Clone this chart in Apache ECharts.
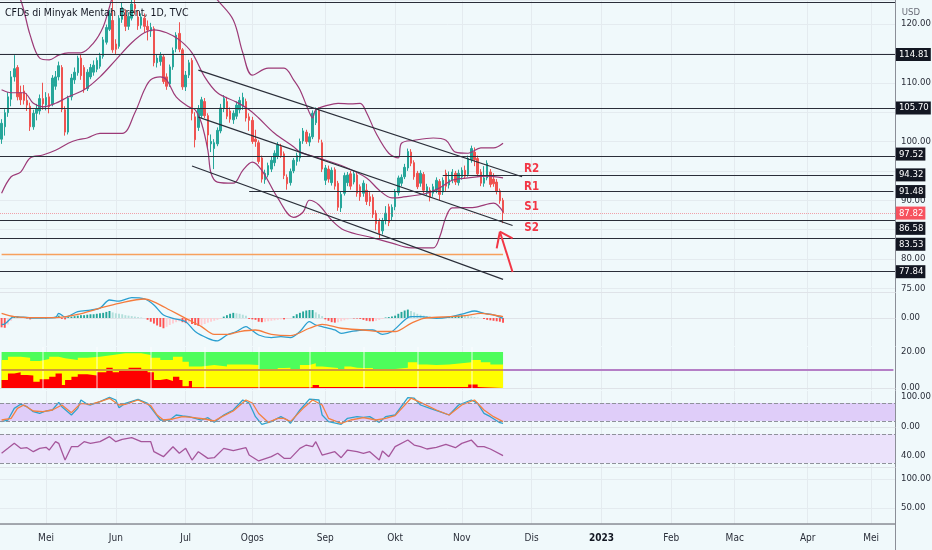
<!DOCTYPE html>
<html>
<head>
<meta charset="utf-8">
<title>CFDs di Minyak Mentah Brent, 1D, TVC</title>
<script src="https://cdn.jsdelivr.net/npm/echarts@6/dist/echarts.min.js"></script>
<style>
    html, body { margin: 0; padding: 0; background: #f0f9fb; }
    #main { width: 932px; height: 550px; }
</style>
</head>
<body>
<div id="main"></div>
<script>
    // 月份标签（马来文）
    var monthNames = ['Jan', 'Feb', 'Mac', 'Apr', 'Mei', 'Jun', 'Jul', 'Ogos', 'Sep', 'Okt', 'Nov', 'Dis'];
    var holidays = ['2022-04-15'];
    var barCount = 282;

    // K线 [开, 收, 低, 高]
    var candles = [
        [100.4,103.1,99.6,103.8],[102.5,104.9,101.0,105.5],[104.9,107.6,104.2,108.4],[107.2,111.0,106.0,112.0],
        [111.0,112.4,110.2,114.7],[112.6,107.6,107.0,113.0],[108.3,107.1,106.2,109.5],[108.6,107.0,106.3,109.6],
        [107.0,106.2,105.2,108.2],[106.0,102.5,101.8,106.6],[102.5,104.8,102.0,105.4],[104.8,105.6,103.6,106.4],
        [105.2,107.3,104.6,108.0],[107.3,106.4,105.4,110.0],[106.2,107.5,105.3,108.4],[107.6,105.9,104.8,108.2],
        [106.4,110.8,106.0,111.3],[109.4,111.0,108.8,112.0],[111.0,112.9,110.4,113.6],[112.6,105.5,105.0,113.0],
        [105.4,101.6,101.0,106.0],[101.6,107.4,101.2,107.8],[107.6,110.8,107.0,111.5],[110.5,111.8,109.8,112.6],
        [111.7,114.2,111.2,114.6],[114.2,111.2,110.5,114.9],[112.6,108.9,108.3,113.0],[109.0,111.8,108.6,112.3],
        [111.0,112.6,110.6,113.2],[111.8,113.0,111.2,113.8],[112.3,113.8,111.8,114.3],[112.8,114.6,112.4,115.1],
        [114.5,117.3,114.1,117.8],[116.9,119.4,116.5,119.9],[119.1,121.8,118.8,122.4],[120.6,115.6,115.1,124.2],
        [116.6,115.7,114.8,117.4],[116.2,121.0,115.8,121.5],[120.8,122.8,120.2,123.6],[121.5,119.6,118.8,122.5],
        [119.6,121.3,119.0,122.0],[121.0,123.4,120.6,124.5],[123.3,122.6,121.6,124.6],[121.2,119.7,119.0,122.3],
        [119.8,121.2,119.2,121.8],[121.0,119.6,118.6,121.8],[119.6,119.0,117.2,120.6],[118.8,119.4,117.8,120.2],
        [119.2,113.4,112.8,119.6],[113.4,114.2,112.6,114.8],[113.6,114.6,112.9,115.2],[114.4,110.2,109.8,114.8],
        [111.0,109.4,108.8,111.6],[109.8,112.7,109.3,113.1],[112.7,115.5,112.2,116.0],[115.8,118.1,115.2,118.6],
        [118.4,115.7,115.2,120.3],[115.6,109.3,108.8,115.9],[109.3,111.3,108.6,112.0],[111.3,113.4,110.8,113.9],
        [113.8,104.8,103.6,114.2],[104.2,100.3,99.0,105.0],[102.4,105.6,101.8,106.2],[104.4,107.1,104.0,107.6],
        [106.8,104.4,104.0,107.4],[104.4,101.1,98.8,104.8],[99.6,100.0,98.2,101.2],[98.8,99.8,95.3,100.4],
        [99.6,101.9,99.2,102.4],[101.8,105.7,101.4,106.4],[105.6,107.3,105.0,107.9],[106.8,104.3,103.8,107.6],
        [105.2,103.8,103.2,105.8],[103.7,104.8,103.0,105.3],[104.3,106.2,103.8,106.8],[105.4,107.0,104.8,107.6],
        [105.9,107.5,105.4,108.3],[106.8,104.0,103.4,107.3],[104.2,103.6,101.8,104.8],[103.6,100.0,99.6,104.2],
        [100.4,100.0,99.1,102.0],[99.8,96.6,96.2,100.2],[97.2,93.6,93.0,97.6],[93.5,94.6,92.8,95.2],
        [94.3,95.9,93.9,96.4],[95.3,96.8,94.8,97.4],[96.4,98.0,95.8,98.5],[97.5,99.4,97.0,99.9],
        [99.1,97.6,97.2,99.6],[97.9,94.2,93.6,98.3],[93.9,92.8,91.8,94.4],[93.0,94.9,92.5,95.4],
        [95.0,96.8,94.6,97.2],[96.6,97.6,95.9,98.1],[97.2,100.0,96.6,100.5],[100.1,101.8,99.6,102.3],
        [101.6,100.0,99.6,102.0],[99.9,100.8,99.2,101.4],[100.8,104.8,100.4,105.3],[103.2,105.3,102.8,105.8],
        [105.3,100.4,99.8,105.8],[99.8,95.3,94.8,100.3],[93.4,95.5,92.6,96.0],[95.3,93.6,93.0,95.9],
        [93.0,95.1,92.5,95.6],[95.2,92.4,91.8,95.6],[92.9,88.8,88.2,93.3],[88.7,91.0,88.0,91.5],
        [91.2,94.2,90.8,94.7],[93.0,94.3,92.4,94.8],[94.5,92.4,91.8,95.0],[93.1,94.5,92.7,95.1],
        [94.3,91.2,90.6,94.7],[92.3,90.6,89.9,92.7],[91.2,92.9,90.6,93.4],[91.7,89.8,89.2,92.8],
        [90.6,89.8,89.0,91.4],[90.5,87.6,87.0,91.0],[87.8,86.0,84.9,88.3],[86.4,84.4,83.6,86.9],
        [84.8,86.5,84.2,87.0],[86.6,87.8,85.9,89.0],[88.9,86.2,85.6,89.4],[87.2,88.8,86.6,89.3],
        [88.9,91.4,88.3,91.9],[91.3,93.8,90.8,94.2],[92.9,93.9,92.4,94.4],[94.0,95.6,93.6,96.2],
        [95.5,98.3,95.0,98.8],[98.2,96.3,95.8,98.7],[96.4,94.0,93.5,96.8],[94.6,92.3,91.9,95.0],
        [92.9,94.6,92.3,95.1],[94.4,91.7,91.2,94.8],[91.3,92.3,90.8,92.8],[91.7,90.5,89.8,92.2],
        [91.2,92.3,90.6,92.8],[91.7,93.4,91.2,93.9],[93.2,91.0,89.9,93.6],[91.4,93.4,90.9,93.9],
        [94.6,92.4,91.6,95.2],[92.6,93.5,92.0,94.9],[93.4,94.8,92.9,95.3],[94.6,93.1,92.6,95.0],
        [93.0,94.6,92.5,95.2],[94.0,95.1,93.5,95.6],[95.1,94.1,93.7,95.9],[94.4,97.1,94.0,97.6],
        [96.9,98.8,96.4,99.3],[98.2,96.9,95.8,99.0],[97.1,94.5,94.0,97.6],[94.8,92.9,92.4,95.3],
        [92.9,93.8,92.3,95.8],[93.8,96.3,93.4,96.8],[94.8,92.7,92.2,95.3],[93.6,92.8,92.3,94.6],
        [93.1,91.5,91.0,93.6],[91.6,89.9,89.4,92.0],[90.0,87.82,86.1,90.4]
    ];

    // 布林带 [K线序号, 价格]
    var bbUpper = [[0,128.5],[3,126.5],[6,124.1],[9,118.1],[12,114.2],[15,113.9],[18,114.7],[21,115.1],[25,115.1],
        [29,116.8],[32,119.5],[34,122.9],[35,124.5],[40,128],[47,129],[53,128.5],[61,127],[66,125.5],[68,124.1],
        [73,120.7],[76,115.1],[79,111.3],[84,112.5],[89,112.5],[92,110.5],[94,108.8],[97,104.9],[98,104.0],
        [99,105.4],[103,106.2],[106,106.5],[110,106.4],[113,106.5],[115,104.9],[118,101.4],[122,98.0],[125,97.2],
        [126,99.7],[130,100.2],[136,100.6],[140,100.2],[143,98.2],[147,98.0],[151,98.9],[155,98.9],[158,99.7]];
    var bbMid = [[0,108.8],[3,108.3],[7,108.3],[10,106.5],[13,105.9],[17,106.5],[21,107.6],[26,108.8],[31,111.0],
        [36,113.9],[41,116.8],[45,118.5],[48,119.0],[52,118.5],[56,117.3],[60,115.1],[64,111.0],[68,108.3],
        [74,106.7],[78,105.4],[81,104.0],[86,101.4],[92,99.1],[94,98.2],[100,97.2],[108,95.7],[115,93.8],
        [119,91.7],[123,90.4],[126,90.5],[134,91.2],[138,92.1],[142,93.4],[147,93.8],[153,94.1],[158,93.8]];
    var bbLower = [[0,91.2],[3,94.0],[6,94.8],[9,97.2],[13,97.7],[17,98.5],[21,99.7],[24,100.3],[27,100.6],
        [31,101.4],[38,101.4],[42,104.9],[45,108.8],[47,110.5],[50,111.0],[52,110.5],[55,107.6],[59,105.9],
        [61,105.4],[63,103.1],[65,98.5],[66,94.6],[68,93.1],[73,92.9],[76,95.1],[79,96.5],[82,95.1],[87,90.4],
        [92,87.1],[95,88.0],[97,90.0],[100,89.2],[104,86.6],[108,84.9],[117,83.6],[123,82.7],[129,81.9],
        [136,81.9],[138,83.7],[140,87.1],[142,88.7],[149,88.8],[155,89.5],[158,88.0]];

    // 水平价位线
    var levelValues = [114.81, 105.70, 97.52, 94.32, 91.48, 86.58, 83.53, 77.84];
    var levelStart = [0, 0, 0, 139, 78, 0, 0, 0];
    var topLine = 123.68;
    var orangeLine = 80.85;
    var lastPrice = 87.82;
    // 通道线 [起点序号, 起点价, 终点序号, 终点价]
    var channels = [[62, 112.15, 164, 94.0], [62, 104.15, 161, 85.7], [60, 95.83, 158, 76.53]];
    var arrow = [[161, 77.79, 157, 84.65], [157, 84.65, 156, 81.82], [157, 84.65, 161, 83.52]];
    var srNames = ['R2', 'R1', 'S1', 'S2'];
    var srValues = [95.40, 92.26, 88.77, 85.36];

    // MACD
    var macdLine = [[0,-1.4],[1,-1.3],[4,0.3],[10,0],[17,0.1],[18,1.0],[20,0.2],[24,1.35],[28,1.7],[31,2.1],
        [34,3.85],[37,3.6],[41,4.35],[45,4.07],[48,2.8],[51,0.64],[54,-0.07],[58,-0.8],[61,-2.9],[65,-4.35],
        [68,-4.9],[71,-3.64],[74,-2.9],[77,-1.85],[78,-2.2],[81,-3.64],[85,-4.2],[88,-4.0],[91,-4.2],[94,-2.9],
        [97,-0.8],[99,-1.5],[101,-1.85],[105,-2.57],[107,-3.28],[110,-2.9],[114,-2.57],[117,-2.57],[120,-3.5],
        [123,-2.9],[127,-0.43],[129,0.28],[132,0.28],[137,-0.07],[141,0.21],[146,1.0],[149,1.5],[152,1.0],
        [155,0.64],[158,-0.07]];
    var signalLine = [[0,1.0],[4,0.3],[10,0.07],[17,0.07],[24,0.78],[31,2.1],[37,3.14],[45,4.07],[49,3.14],
        [53,1.7],[58,-0.07],[63,-1.85],[67,-3.5],[71,-3.5],[75,-2.9],[80,-2.57],[85,-3.5],[91,-3.78],[97,-2.2],
        [101,-1.36],[107,-2.2],[114,-2.57],[120,-2.9],[124,-2.9],[129,-1.14],[133,-0.07],[139,0.21],[146,0.5],
        [151,1.0],[155,0.64],[158,0.28]];
    var macdHist = [-2.0,-2.1,-1.4,-0.6,0.3,0.3,0.2,0.1,-0.1,-0.3,-0.1,0.0,0.1,0.0,-0.1,0.1,0.2,0.3,0.5,-0.2,
        -0.3,0.2,0.3,0.4,0.5,0.6,0.6,0.7,0.8,0.8,0.9,1.0,1.1,1.3,1.5,1.2,1.0,0.9,0.8,0.6,
        0.5,0.4,0.3,0.2,0.1,0.0,-0.4,-0.8,-1.2,-1.6,-1.9,-2.2,-1.9,-1.5,-1.2,-0.9,-0.7,-0.9,-1.1,-1.0,
        -1.3,-1.5,-1.7,-1.6,-1.3,-1.0,-0.8,-0.6,-0.4,-0.2,0.3,0.6,0.9,1.1,1.0,0.9,0.7,0.5,-0.2,-0.3,
        -0.4,-0.8,-0.9,-0.8,-0.7,-0.6,-0.5,-0.4,-0.3,-0.3,-0.2,-0.1,0.4,0.8,1.1,1.4,1.6,1.7,1.7,1.2,
        0.8,0.4,-0.3,-0.6,-0.9,-1.0,-0.9,-0.7,-0.5,-0.3,-0.1,-0.1,-0.1,-0.2,-0.4,-0.6,-0.7,-0.7,-0.6,-0.4,
        -0.2,0.1,0.2,0.3,0.5,0.9,1.3,1.6,1.8,1.5,1.2,0.9,0.7,0.5,0.4,0.3,0.2,0.1,0.2,0.1,
        0.2,0.2,0.3,0.4,0.5,0.6,0.5,0.4,0.3,0.2,0.1,0.0,-0.2,-0.4,-0.5,-0.6,-0.7,-0.8,-1.0];

    // 彩色指标（0-20）
    var cpGreen = [[0,20],[158,20]];
    var cpYellow = [[0,15.6],[2,17.4],[6,16.8],[9,15],[12,16.1],[15,17.4],[18,16.5],[20,15.6],[24,16.8],[27,17.4],
        [31,18.3],[35,19.3],[39,19.3],[44,18.3],[47,16.8],[50,15.6],[54,17.4],[57,14.6],[59,11.9],[63,12.8],
        [67,11.9],[71,13.1],[75,13.1],[78,12.8],[81,10],[85,9.4],[87,11.1],[89,11.3],[91,10],[94,12.8],[97,13.7],
        [99,11.9],[101,11.1],[106,9.4],[108,11.9],[110,11.3],[112,11.1],[114,11.1],[117,9.4],[120,9.4],[122,10.6],
        [124,11.3],[128,14.3],[131,13.1],[134,12.8],[137,13.1],[141,13.7],[145,14.3],[148,15.6],[151,14.3],
        [154,13.1],[158,11.9]];
    var cpRed = [[0,4.4],[2,8.1],[4,8.7],[6,7.2],[8,6.9],[10,3.5],[12,4.8],[15,6.3],[17,8.1],[19,1.7],[20,4.5],
        [22,6.3],[24,7.6],[27,6.9],[30,8.7],[33,11.3],[35,8.7],[37,10],[40,11.3],[44,10],[46,8.7],[48,4.4],[50,5],
        [52,3.9],[54,6.3],[56,4.4],[57,1],[59,3.9],[60,0.4],[98,1.7],[100,0.5],[147,1.9],[150,0.5],[158,0.5]];
    var cpMid = 10;
    var cpGaps = [13, 30, 47, 64, 81, 97, 114, 131, 148];

    // 随机指标
    var stochK = [[0,17.8],[2,23.3],[4,62.2],[6,75.6],[8,67.8],[10,51.1],[12,45.6],[14,53.3],[16,56.7],[18,82.2],
        [19,67.8],[22,40],[24,62.2],[25,90],[27,75.6],[28,73.3],[31,84.4],[34,99],[36,90],[37,64.4],[39,78.9],
        [43,92.2],[46,78.9],[48,51.1],[50,23.3],[53,23.3],[55,40],[57,36.7],[59,34.4],[63,23.3],[65,31.1],
        [67,15.6],[70,40],[73,56.7],[76,90],[78,80],[80,34.4],[82,8.9],[85,17.8],[88,34.4],[90,23.3],[91,12.2],
        [94,56.7],[97,93],[100,90],[101,40],[103,17.8],[107,8.9],[109,28.9],[112,34.4],[114,32.2],[116,34.4],
        [119,15.6],[121,34.4],[124,40],[128,98],[130,96],[132,73.3],[135,62.2],[138,51.1],[141,40],[144,73.3],
        [148,90],[150,78.9],[152,45.6],[154,34.4],[157,14.4],[158,12]];
    var stochD = [[0,23.3],[3,28.9],[5,62.2],[7,73.3],[10,53.3],[13,51.1],[16,56.7],[19,73.3],[22,47.8],[25,78.9],
        [28,75.6],[31,84.4],[34,95.6],[37,73.3],[39,75.6],[43,90],[47,71.1],[49,40],[51,23.3],[54,26.7],[57,34.4],
        [60,32.2],[64,26.7],[67,20],[69,32.2],[73,53.3],[77,90],[79,80],[81,45],[84,15.6],[87,28.9],[89,28.9],
        [91,17.8],[95,62.2],[98,90],[101,73.3],[103,28.9],[107,12.2],[110,23.3],[114,31.1],[118,23.3],[121,28.9],
        [124,37.8],[129,96],[132,82.2],[137,56.7],[141,40],[145,73.3],[149,90],[152,56.7],[155,34.4],[158,18]];

    // RSI
    var rsi = [[0,43.4],[2,50.2],[4,57.1],[6,50.2],[8,51.1],[10,45.6],[12,50.2],[14,51.6],[15,47.9],[17,59.4],
        [18,57.1],[20,34.1],[22,52.5],[24,52.5],[26,59.4],[28,57.1],[31,59.4],[34,66.3],[36,59.4],[38,62.7],
        [41,64.9],[44,59.4],[47,59.4],[48,45.6],[51,38.7],[54,52.5],[56,43.4],[58,50.2],[60,34.1],[62,45.6],
        [65,36.4],[67,37.3],[70,50.2],[73,47],[77,51.1],[78,41],[81,32.8],[85,38.7],[87,43.4],[89,36.4],[91,36.4],
        [94,50.2],[96,54.8],[98,52.5],[99,59.4],[101,41],[105,45.6],[107,37.3],[109,47.9],[112,45.6],[114,43.4],
        [116,45.6],[119,34.1],[120,46.6],[122,38.7],[124,52.5],[128,61.7],[130,54.8],[132,52.5],[134,49.3],
        [137,51.6],[140,55.8],[143,51.1],[145,57.1],[148,61.7],[150,52.5],[152,52.5],[154,49.3],[158,40.1]];

    // 各窗格坐标刻度标签
    var priceTicks = [75, 80, 90, 100, 110, 120];
    var macdTicks = [0];
    var cpTicks = [0, 20];
    var stochTicks = [0, 100];
    var rsiTicks = [40];
    var emptyTicks = [50, 100];

    // 交易日（周一到周五）
    var dates = [];
    (function () {
        var d = new Date(Date.UTC(2022, 3, 11));
        while (dates.length < barCount) {
            var wd = d.getUTCDay();
            var s = d.toISOString().slice(0, 10);
            if (wd !== 0 && wd !== 6 && holidays.indexOf(s) < 0) dates.push(s);
            d.setUTCDate(d.getUTCDate() + 1);
        }
    })();
    var lastIdx = dates.length - 1;

    function isMonthStart(index) {
        return index > 0 && dates[index].slice(5, 7) !== dates[index - 1].slice(5, 7);
    }

    var FONT = "'Liberation Sans Narrow', 'DejaVu Sans Condensed', 'Liberation Sans', sans-serif";

    function pick(list) {
        return function (v) {
            for (var k = 0; k < list.length; k++) {
                if (Math.abs(v - list[k]) < 1e-6) return list[k].toFixed(2);
            }
            return '';
        };
    }

    function xAx(grid, last) {
        return {
            type: 'category',
            gridIndex: grid,
            data: dates,
            boundaryGap: true,
            axisLine: {show: true, lineStyle: {color: last ? '#8b8e97' : '#dfe3e8', width: last ? 1.5 : 1}},
            axisTick: {show: false},
            axisLabel: {
                show: last,
                interval: function (i) { return isMonthStart(i); },
                formatter: function (value) {
                    var m = parseInt(value.slice(5, 7), 10) - 1;
                    return m === 0 ? '{y|' + value.slice(0, 4) + '}' : monthNames[m];
                },
                color: '#2a2e39',
                fontSize: 10,
                fontFamily: FONT,
                margin: 9,
                rich: {y: {fontWeight: 'bold', fontSize: 10, color: '#131722', fontFamily: FONT}}
            },
            splitLine: {
                show: true,
                alignWithLabel: true,
                interval: function (i) { return isMonthStart(i); },
                lineStyle: {color: '#e4ebef'}
            }
        };
    }

    function yAx(grid, min, max, ticks, more) {
        var o = {
            type: 'value',
            gridIndex: grid,
            position: 'right',
            min: min,
            max: max,
            axisLine: {show: true, lineStyle: {color: '#8b8e97'}},
            axisTick: {show: false},
            axisLabel: {formatter: pick(ticks), color: '#2a2e39', fontSize: 9.5, fontFamily: FONT, margin: 6},
            splitLine: {show: false, lineStyle: {color: '#e4ebef'}}
        };
        for (var k in more) o[k] = more[k];
        return o;
    }

    function gridAt(top, height) {
        return {left: 0, right: 37, top: top, height: height, containLabel: false, outerBoundsMode: 'none'};
    }

    // 价位线和标注
    var priceLines = [];
    priceLines.push({yAxis: topLine});
    for (var i = 0; i < levelValues.length; i++) {
        if (levelStart[i] === 0) priceLines.push({yAxis: levelValues[i]});
        else priceLines.push([{coord: [levelStart[i], levelValues[i]]}, {coord: [lastIdx, levelValues[i]]}]);
    }
    priceLines.push([{coord: [0, orangeLine], lineStyle: {color: '#f7a15d', width: 1.3}}, {coord: [candles.length - 1, orangeLine]}]);
    priceLines.push({yAxis: lastPrice, lineStyle: {color: '#f23645', type: 'dotted', width: 1, opacity: 0.45}});
    channels.forEach(function (c) {
        priceLines.push([{coord: [c[0], c[1]]}, {coord: [c[2], c[3]]}]);
    });
    arrow.forEach(function (c) {
        priceLines.push([{coord: [c[0], c[1]], lineStyle: {color: '#f23645', width: 2}}, {coord: [c[2], c[3]]}]);
    });

    var labelShift = {'86.58': 8, '83.53': 6, '97.52': -2};
    var pricePoints = [];
    levelValues.concat([lastPrice]).forEach(function (v) {
        var t = v.toFixed(2);
        pricePoints.push({
            name: t,
            coord: [lastIdx, v],
            label: {
                show: true,
                position: 'right',
                distance: 2,
                offset: [0, labelShift[t] || 0],
                formatter: '{b}',
                color: '#ffffff',
                backgroundColor: v === lastPrice ? '#f7525f' : '#131722',
                padding: [2, 2, 1, 3],
                fontSize: 9.5,
                fontFamily: FONT
            }
        });
    });
    srNames.forEach(function (n, k) {
        pricePoints.push({
            name: n,
            coord: [167, srValues[k]],
            label: {show: true, position: 'inside', formatter: '{b}', color: '#f23645', fontSize: 11.5,
                fontWeight: 'bold', fontFamily: FONT}
        });
    });

    var bandStyle = {color: '#8f929b', type: 'dashed', width: 1};

    option = {
        backgroundColor: '#f0f9fb',
        animation: false,
        title: [
            {text: 'CFDs di Minyak Mentah Brent, 1D, TVC', left: 5, top: 8, padding: 0,
                textStyle: {fontSize: 10.5, fontWeight: 'normal', color: '#131722', fontFamily: FONT}},
            {text: 'USD', right: 12, top: 8, padding: 0,
                textStyle: {fontSize: 9.5, fontWeight: 'normal', color: '#6a6d78', fontFamily: FONT}}
        ],
        grid: [gridAt(0, 292), gridAt(293, 53), gridAt(347, 43), gridAt(391, 38), gridAt(429, 38), gridAt(467, 57), gridAt(524, 26)],
        xAxis: [xAx(0, false), xAx(1, false), xAx(2, false), xAx(3, false), xAx(4, false), xAx(5, true),
            {type: 'category', gridIndex: 6, data: dates, show: false}],
        yAxis: [
            yAx(0, 74.385, 124.085, priceTicks, {splitNumber: 10, splitLine: {show: true, lineStyle: {color: '#e4ebef'}}}),
            yAx(1, -6, 5.35, macdTicks, {interval: 6}),
            yAx(2, -1.11, 22.78, cpTicks, {splitNumber: 2}),
            yAx(3, -6.67, 120, stochTicks, {splitNumber: 2}),
            yAx(4, 24.48, 76.9, rsiTicks, {splitNumber: 5}),
            yAx(5, 22.41, 120.69, emptyTicks, {splitNumber: 2, splitLine: {show: true, lineStyle: {color: '#e4ebef'}}}),
            yAx(6, 0, 1, [], {axisLabel: {show: false}})
        ],
        series: [
            {
                type: 'candlestick',
                xAxisIndex: 0,
                yAxisIndex: 0,
                data: candles,
                barWidth: '62%',
                clip: true,
                silent: true,
                itemStyle: {color: '#26a69a', color0: '#ef5350', borderColor: '#26a69a', borderColor0: '#ef5350', borderWidth: 1},
                markLine: {
                    silent: true,
                    symbol: ['none', 'none'],
                    label: {show: false},
                    lineStyle: {color: '#2a2e39', width: 1.2, type: 'solid'},
                    data: priceLines
                },
                markPoint: {
                    silent: true,
                    symbol: 'rect',
                    symbolSize: 1,
                    itemStyle: {color: 'rgba(0,0,0,0)'},
                    data: pricePoints
                }
            },
            {type: 'line', xAxisIndex: 0, yAxisIndex: 0, data: bbUpper, symbol: 'none', smooth: 0.35, clip: true, silent: true,
                lineStyle: {color: '#9c3a77', width: 1.2}},
            {type: 'line', xAxisIndex: 0, yAxisIndex: 0, data: bbMid, symbol: 'none', smooth: 0.35, clip: true, silent: true,
                lineStyle: {color: '#9c3a77', width: 1.2}},
            {type: 'line', xAxisIndex: 0, yAxisIndex: 0, data: bbLower, symbol: 'none', smooth: 0.35, clip: true, silent: true,
                lineStyle: {color: '#9c3a77', width: 1.2}},

            // MACD
            {
                type: 'bar', xAxisIndex: 1, yAxisIndex: 1, data: macdHist, barWidth: '60%', silent: true,
                itemStyle: {
                    color: function (p) {
                        var v = p.value, prev = p.dataIndex > 0 ? macdHist[p.dataIndex - 1] : v;
                        if (v >= 0) return v >= prev ? '#26a69a' : '#b2dfdb';
                        return v <= prev ? '#ff5252' : '#ffcdd2';
                    }
                }
            },
            {type: 'line', xAxisIndex: 1, yAxisIndex: 1, data: macdLine, symbol: 'none', smooth: 0.3, silent: true,
                lineStyle: {color: '#2a9fd0', width: 1.3}},
            {type: 'line', xAxisIndex: 1, yAxisIndex: 1, data: signalLine, symbol: 'none', smooth: 0.3, silent: true,
                lineStyle: {color: '#f57c3d', width: 1.3}},

            // 彩色指标
            {type: 'line', xAxisIndex: 2, yAxisIndex: 2, data: cpGreen, step: 'end', symbol: 'none', silent: true,
                lineStyle: {width: 0}, areaStyle: {color: '#4dfd5b', opacity: 1}},
            {type: 'line', xAxisIndex: 2, yAxisIndex: 2, data: cpYellow, step: 'end', symbol: 'none', silent: true,
                lineStyle: {width: 0}, areaStyle: {color: '#ffff00', opacity: 1}},
            {
                type: 'line', xAxisIndex: 2, yAxisIndex: 2, data: cpRed, step: 'end', symbol: 'none', silent: true,
                lineStyle: {width: 0}, areaStyle: {color: '#ff0000', opacity: 1},
                markLine: {
                    silent: true,
                    symbol: ['none', 'none'],
                    label: {show: false},
                    data: cpGaps.map(function (g) {
                        return {xAxis: g, lineStyle: {color: 'rgba(255,255,255,0.55)', width: 1.5, type: 'solid'}};
                    }).concat([
                        [{coord: [0, cpMid], lineStyle: {color: '#d09a3c', width: 2, type: 'solid'}}, {coord: [candles.length - 1, cpMid]}],
                        [{coord: [candles.length - 1, cpMid], lineStyle: {color: '#b57fc6', width: 2, type: 'solid'}}, {coord: [lastIdx, cpMid]}]
                    ])
                }
            },

            // 随机指标
            {
                type: 'line', xAxisIndex: 3, yAxisIndex: 3, data: stochK, symbol: 'none', silent: true,
                lineStyle: {color: '#2fa3cc', width: 1.3},
                markArea: {silent: true, itemStyle: {color: '#dfcdf9'}, data: [[{yAxis: 20}, {yAxis: 80}]]},
                markLine: {silent: true, symbol: ['none', 'none'], label: {show: false}, lineStyle: bandStyle,
                    data: [{yAxis: 20}, {yAxis: 80}]}
            },
            {type: 'line', xAxisIndex: 3, yAxisIndex: 3, data: stochD, symbol: 'none', silent: true,
                lineStyle: {color: '#f5813f', width: 1.3}},

            // RSI
            {
                type: 'line', xAxisIndex: 4, yAxisIndex: 4, data: rsi, symbol: 'none', silent: true,
                lineStyle: {color: '#a5569b', width: 1.3},
                markArea: {silent: true, itemStyle: {color: '#ebe2fb'}, data: [[{yAxis: 30}, {yAxis: 70}]]},
                markLine: {silent: true, symbol: ['none', 'none'], label: {show: false}, lineStyle: bandStyle,
                    data: [{yAxis: 30}, {yAxis: 70}]}
            }
        ]
    };

    var myChart = echarts.init(document.getElementById('main'), null, {width: 932, height: 550});
    myChart.setOption(option);
</script>
</body>
</html>
